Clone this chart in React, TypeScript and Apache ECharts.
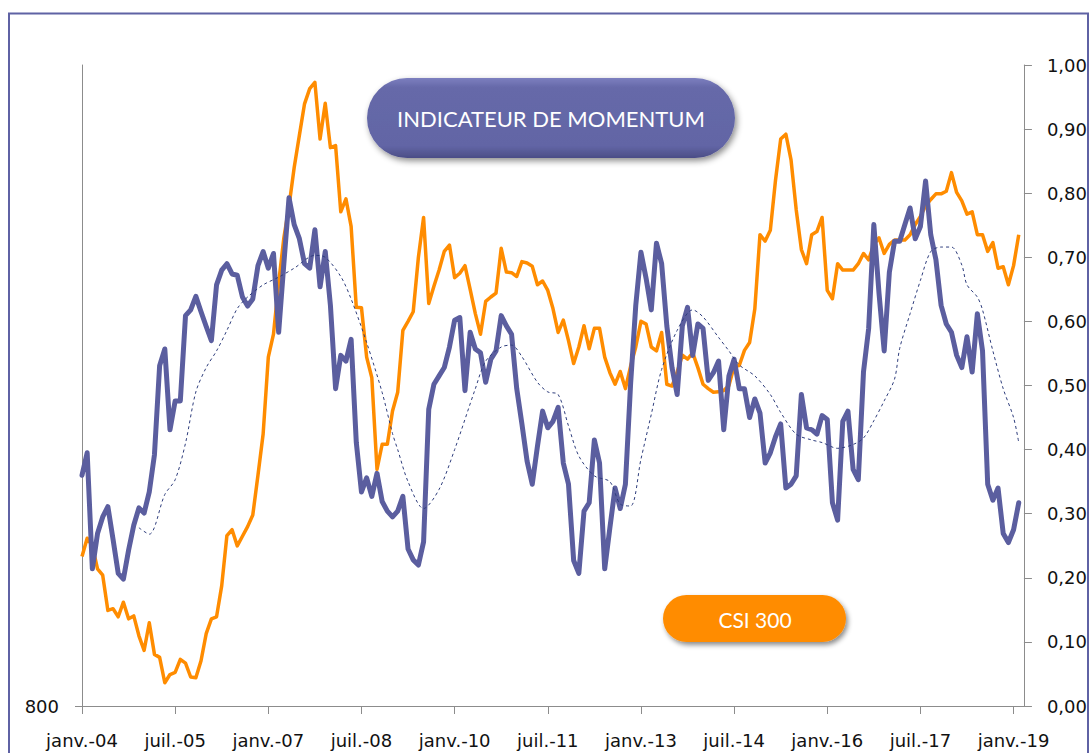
import React, { useEffect, useRef } from "react";
import * as echarts from "echarts";

// Month labels (French abbreviations), Jan 2004 .. Mar 2019
const monthAbbr = ["janv.", "févr.", "mars", "avr.", "mai", "juin", "juil.", "août", "sept.", "oct.", "nov.", "déc."];
const startYear = 2004;
const monthCount = 183;
const categories: string[] = [];
for (let i = 0; i < monthCount; i++) {
  const y = startYear + Math.floor(i / 12);
  categories.push(monthAbbr[i % 12] + "-" + String(y % 100).padStart(2, "0"));
}

// CSI 300 index (left, log axis)
const csi300 = [
  1292, 1370, 1337, 1242, 1217, 1087, 1093, 1065, 1116, 1058, 1068, 1002,
  956, 1045, 944, 935, 862, 885, 891, 929, 918, 878, 876, 925,
  1009, 1058, 1065, 1177, 1382, 1408, 1337, 1379, 1422, 1476, 1677, 1914,
  2449, 2636, 3107, 3589, 3977, 4500, 4987, 5518, 5794, 5912, 4928, 5527,
  4795, 4827, 3903, 4068, 3725, 2873, 2869, 2449, 2292, 1709, 1852, 1852,
  2060, 2188, 2669, 2747, 2833, 3374, 3833, 2909, 3075, 3238, 3438, 3509,
  3160, 3205, 3284, 3044, 2816, 2636, 2928, 2970, 3008, 3472, 3217, 3211,
  3172, 3327, 3312, 3278, 3089, 3126, 3033, 2862, 2651, 2758, 2582, 2399,
  2530, 2709, 2515, 2686, 2686, 2449, 2330, 2245, 2339, 2214, 2378, 2530,
  2747, 2723, 2530, 2498, 2651, 2245, 2232, 2334, 2464, 2433, 2483, 2368,
  2245, 2214, 2188, 2191, 2200, 2236, 2378, 2384, 2503, 2567, 2857, 3627,
  3553, 3678, 4318, 4928, 5006, 4611, 3930, 3458, 3305, 3627, 3663, 3833,
  3033, 2953, 3305, 3238, 3238, 3238, 3305, 3415, 3345, 3516, 3589, 3415,
  3516, 3566, 3566, 3566, 3627, 3747, 3847, 3977, 4060, 4135, 4135, 4169,
  4426, 4153, 4042, 3874, 3903, 3627, 3627, 3438, 3536, 3257, 3272, 3089,
  3284, 3627,
];

// Momentum indicator (right axis)
const momentum = [
  0.36, 0.395, 0.214, 0.269, 0.295, 0.311, 0.26, 0.207, 0.198, 0.243, 0.282, 0.309,
  0.301, 0.334, 0.392, 0.531, 0.557, 0.431, 0.476, 0.476, 0.609, 0.618, 0.639, 0.615,
  0.592, 0.57, 0.657, 0.68, 0.69, 0.674, 0.672, 0.638, 0.624, 0.635, 0.687, 0.709,
  0.683, 0.706, 0.583, 0.69, 0.793, 0.751, 0.729, 0.69, 0.683, 0.743, 0.654, 0.709,
  0.625, 0.495, 0.547, 0.538, 0.572, 0.411, 0.334, 0.356, 0.327, 0.363, 0.319, 0.304,
  0.295, 0.304, 0.327, 0.245, 0.228, 0.22, 0.256, 0.463, 0.502, 0.515, 0.528, 0.56,
  0.602, 0.606, 0.492, 0.583, 0.557, 0.551, 0.505, 0.541, 0.554, 0.609, 0.593, 0.58,
  0.495, 0.44, 0.382, 0.346, 0.405, 0.46, 0.434, 0.444, 0.466, 0.379, 0.346, 0.227,
  0.207, 0.304, 0.317, 0.415, 0.379, 0.214, 0.278, 0.34, 0.308, 0.346, 0.502, 0.625,
  0.708, 0.667, 0.618, 0.722, 0.69, 0.593, 0.528, 0.486, 0.593, 0.622, 0.547, 0.596,
  0.589, 0.508, 0.52, 0.538, 0.431, 0.515, 0.541, 0.495, 0.495, 0.45, 0.479, 0.457,
  0.379, 0.395, 0.42, 0.44, 0.34, 0.346, 0.359, 0.486, 0.434, 0.431, 0.424, 0.453,
  0.447, 0.317, 0.29, 0.444, 0.46, 0.369, 0.353, 0.521, 0.589, 0.751, 0.644, 0.554,
  0.677, 0.725, 0.725, 0.751, 0.777, 0.729, 0.748, 0.819, 0.735, 0.696, 0.625, 0.596,
  0.583, 0.547, 0.528, 0.576, 0.521, 0.612, 0.554, 0.346, 0.321, 0.34, 0.269, 0.255,
  0.275, 0.317,
];

// Moving average of the indicator (dotted line), [month index, value]
const momentumAvg: [number, number][] = [
  [11, 0.278], [13, 0.268], [16, 0.33], [18, 0.353], [20, 0.41], [22, 0.49], [24, 0.528],
  [26, 0.554], [28, 0.586], [30, 0.62], [32, 0.638], [35, 0.657], [38, 0.669], [41, 0.683],
  [45, 0.703], [47, 0.7], [50, 0.67], [52, 0.635], [55, 0.567], [58, 0.489], [60, 0.425],
  [61, 0.4], [63, 0.35], [66, 0.308], [69, 0.338], [72, 0.4], [76, 0.495], [78, 0.538],
  [81, 0.56], [83, 0.563], [85, 0.545], [88, 0.505], [90, 0.49], [92, 0.486], [94, 0.437],
  [96, 0.39], [99, 0.359], [102, 0.35], [104, 0.315], [106, 0.312], [108, 0.385], [110, 0.455],
  [112, 0.525], [115, 0.586], [118, 0.618], [120, 0.607], [123, 0.575], [125, 0.554],
  [127, 0.532], [130, 0.515], [133, 0.486], [135, 0.458], [138, 0.424], [141, 0.415],
  [143, 0.411], [146, 0.402], [149, 0.408], [151, 0.418], [153, 0.445], [155, 0.476],
  [157, 0.51], [158, 0.558], [160, 0.612], [162, 0.664], [164, 0.709], [166, 0.716],
  [168, 0.716], [170, 0.688], [171, 0.657], [173, 0.638], [174, 0.618], [176, 0.554],
  [178, 0.495], [180, 0.45], [181, 0.411],
];

const leftTickValues = [800];
const titleText = "INDICATEUR DE MOMENTUM";
const legendText = "CSI 300";

const AXIS_FONT = "DejaVu Sans";
const GREY = "#8c8c8c";

export default function App() {
  const ref = useRef<HTMLDivElement>(null);
  useEffect(() => {
    if (!ref.current) return;
    const chart = echarts.init(ref.current, undefined, { renderer: "svg" });
    const everyEighteen = (i: number) => i % 18 === 0;
    chart.setOption({
      animation: false,
      backgroundColor: "#ffffff",
      grid: { left: 82, right: 66, top: 65, bottom: 47 },
      xAxis: {
        type: "category",
        data: categories,
        boundaryGap: false,
        axisLine: { lineStyle: { color: GREY, width: 1 } },
        axisTick: { interval: everyEighteen, length: 8, lineStyle: { color: GREY } },
        axisLabel: {
          interval: everyEighteen,
          margin: 25,
          fontSize: 18,
          fontFamily: AXIS_FONT,
          color: "#111",
        },
        splitLine: { show: false },
      },
      yAxis: [
        {
          type: "log",
          logBase: 10,
          min: 800,
          max: 6250,
          position: "left",
          axisLine: { show: true, lineStyle: { color: GREY } },
          axisTick: { show: true, length: 7, customValues: leftTickValues, lineStyle: { color: GREY } },
          axisLabel: {
            customValues: leftTickValues,
            formatter: (v: number) => String(Math.round(v)),
            margin: 23,
            fontSize: 18,
            fontFamily: AXIS_FONT,
            color: "#111",
          },
          splitLine: { show: false },
        },
        {
          type: "value",
          min: 0,
          max: 1,
          interval: 0.1,
          position: "right",
          axisLine: { show: true, lineStyle: { color: GREY } },
          axisTick: { show: true, length: 8, lineStyle: { color: GREY } },
          axisLabel: {
            formatter: (v: number) => v.toFixed(2).replace(".", ","),
            margin: 23,
            fontSize: 18,
            fontFamily: AXIS_FONT,
            color: "#111",
          },
          splitLine: { show: false },
        },
      ],
      series: [
        {
          name: "CSI 300",
          type: "line",
          yAxisIndex: 0,
          data: csi300,
          showSymbol: false,
          lineStyle: { color: "#ff8c00", width: 3.5, join: "round" },
          z: 2,
        },
        {
          name: "Momentum",
          type: "line",
          yAxisIndex: 1,
          data: momentum,
          showSymbol: false,
          lineStyle: { color: "#5b5e9f", width: 5, join: "round", cap: "round" },
          z: 3,
        },
        {
          name: "Moyenne",
          type: "line",
          yAxisIndex: 1,
          data: momentumAvg,
          showSymbol: false,
          smooth: 0.3,
          lineStyle: { color: "#2e3d7c", width: 1, type: [3, 3] },
          z: 4,
        },
      ],
      graphic: [
        {
          type: "rect",
          z: 0,
          silent: true,
          shape: { x: 9, y: 13.5, width: 1079, height: 780 },
          style: { fill: "none", stroke: "#5f62a4", lineWidth: 2 },
        },
        {
          type: "group",
          z: 100,
          children: [
            {
              type: "rect",
              shape: { x: 367, y: 78, width: 368, height: 80, r: 40 },
              style: {
                fill: new echarts.graphic.LinearGradient(0, 0, 0, 1, [
                  { offset: 0, color: "#7c7fbf" },
                  { offset: 0.12, color: "#6669a9" },
                  { offset: 0.85, color: "#6265a5" },
                  { offset: 1, color: "#4b4d86" },
                ]),
                shadowBlur: 6,
                shadowColor: "rgba(0,0,0,0.45)",
                shadowOffsetX: 2,
                shadowOffsetY: 3,
              },
            },
            {
              type: "text",
              style: {
                text: titleText,
                x: 551,
                y: 118,
                fill: "#ffffff",
                font: "22px Lato",
                textAlign: "center",
                textVerticalAlign: "middle",
              },
            },
            {
              type: "rect",
              shape: { x: 663, y: 595, width: 183, height: 47, r: 23.5 },
              style: {
                fill: "#ff8c00",
                shadowBlur: 5,
                shadowColor: "rgba(0,0,0,0.45)",
                shadowOffsetX: 2,
                shadowOffsetY: 3,
              },
            },
            {
              type: "text",
              style: {
                text: legendText,
                x: 755,
                y: 619,
                fill: "#ffffff",
                font: "21px Lato",
                textAlign: "center",
                textVerticalAlign: "middle",
              },
            },
          ],
        },
      ],
    });
    return () => chart.dispose();
  }, []);
  return (
    <div
      ref={ref}
      style={{ position: "absolute", left: 0, top: 0, width: 1090, height: 753 }}
    />
  );
}
